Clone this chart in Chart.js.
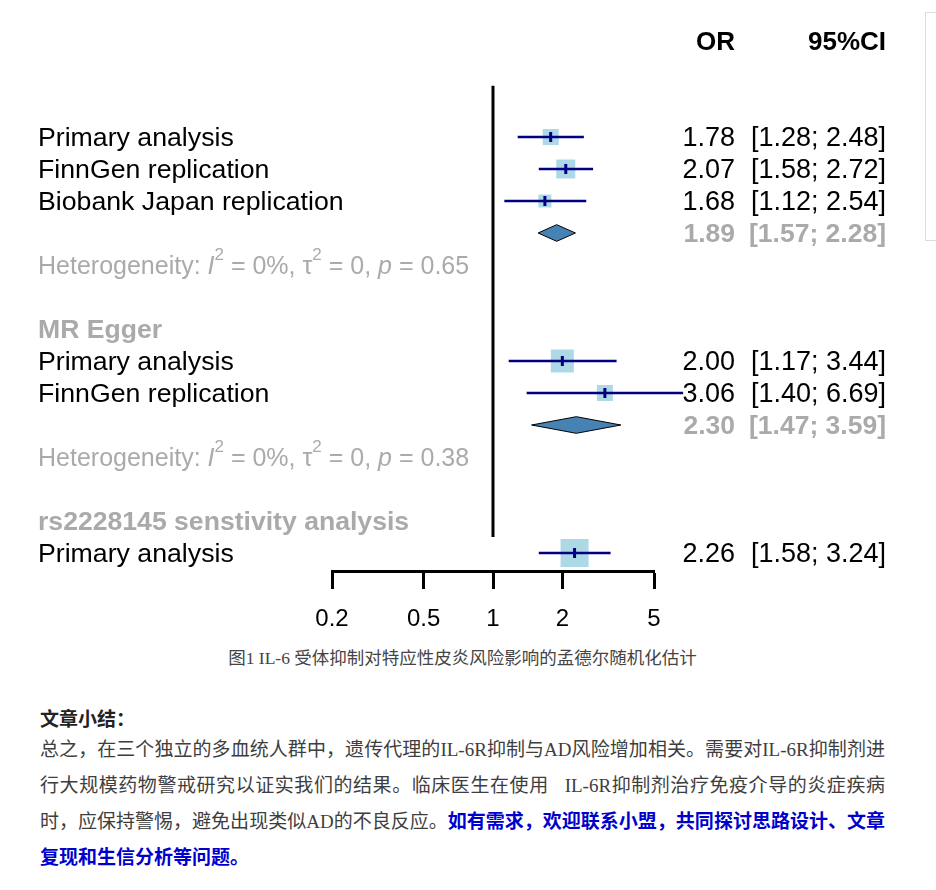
<!DOCTYPE html>
<html>
<head>
  <meta charset="utf-8">
  <title>IL-6R forest plot</title>
  <script src="https://cdn.jsdelivr.net/npm/chart.js"></script>
  <style>
    body { margin: 0; background: #fff; width: 936px; height: 890px; position: relative; overflow: hidden; }
    #wrap { position: absolute; left: 0; top: 0; width: 936px; height: 641px; }
    .side { position: absolute; left: 925px; top: 12px; width: 30px; height: 227px; border: 1px solid #ddd; }
    .caption { position: absolute; left: 0; top: 646px; width: 925px; text-align: center;
      font: 17.5px "Liberation Serif", "Noto Sans CJK SC", serif; color: #444; line-height: 24px; }
    .sumtitle { position: absolute; left: 40px; top: 705px; font: bold 19px "Liberation Serif", "Noto Sans CJK SC", serif;
      color: #222; line-height: 30px; }
    .para { position: absolute; left: 40px; top: 732px; width: 845px;
      font: 19px "Liberation Serif", "Noto Sans CJK SC", serif; color: #3e3e3e; line-height: 36px; }
    .ln { text-align: justify; text-align-last: justify; white-space: nowrap; }
    .ln.last { text-align-last: left; }
    .blue { color: #0000cd; font-weight: bold; }
  </style>
</head>
<body>

  <div id="wrap"><canvas id="forest"></canvas></div>
  <div class="side"></div>

  <div class="caption">图1 IL-6 受体抑制对特应性皮炎风险影响的孟德尔随机化估计</div>
  <div class="sumtitle">文章小结：</div>
  <div class="para">
    <div class="ln">总之，在三个独立的多血统人群中，遗传代理的IL-6R抑制与AD风险增加相关。需要对IL-6R抑制剂进</div>
    <div class="ln">行大规模药物警戒研究以证实我们的结果。临床医生在使用&nbsp;&nbsp; IL-6R抑制剂治疗免疫介导的炎症疾病</div>
    <div class="ln">时，应保持警惕，避免出现类似AD的不良反应。<span class="blue">如有需求，欢迎联系小盟，共同探讨思路设计、文章</span></div>
    <div class="ln last"><span class="blue">复现和生信分析等问题。</span></div>
  </div>

  <script>
    // study rows
    const studyLabels = ['Primary analysis', 'FinnGen replication', 'Biobank Japan replication',
                         'Primary analysis', 'FinnGen replication', 'Primary analysis'];
    const studyRows = [0, 1, 2, 7, 8, 13];
    const studyOR = [1.78, 2.07, 1.68, 2.00, 3.06, 2.26];
    const studyLower = [1.28, 1.58, 1.12, 1.17, 1.40, 1.58];
    const studyUpper = [2.48, 2.72, 2.54, 3.44, 6.69, 3.24];
    const studyWeight = [32.6, 45.9, 21.5, 67.4, 32.6, 100];

    // pooled estimates
    const pooledRows = [3, 9];
    const pooledOR = [1.89, 2.30];
    const pooledLower = [1.57, 1.47];
    const pooledUpper = [2.28, 3.59];

    // heterogeneity lines
    const hetRows = [4, 10];
    const hetI2 = ['0%', '0%'];
    const hetTau2 = ['0', '0'];
    const hetP = ['0.65', '0.38'];

    const groupHeadings = ['MR Egger', 'rs2228145 senstivity analysis'];
    const groupHeadingRows = [6, 12];

    const xTicks = [0.2, 0.5, 1, 2, 5];

    const FONT = '"Liberation Sans", Arial, sans-serif';
    const GREY = '#aaaaaa';
    const NAVY = '#000080';
    const MAX_BOX = 28;
    const DY = 2; // text nudge

    const fmt = v => v.toFixed(2);
    const ciText = (lo, hi) => '[' + fmt(lo) + '; ' + fmt(hi) + ']';

    const ciSets = studyOR.map((_, i) => ({
      data: [{ x: studyLower[i], y: studyRows[i] }, { x: studyUpper[i], y: studyRows[i] }],
      showLine: true,
      borderColor: NAVY,
      borderWidth: 2.5,
      pointRadius: 0,
      clip: false,
      order: 2
    }));

    const forestText = {
      id: 'forestText',
      afterDatasetsDraw(chart) {
        const { ctx, scales: { x, y } } = chart;
        ctx.save();

        // line of no effect
        ctx.strokeStyle = '#000';
        ctx.lineWidth = 3;
        ctx.beginPath();
        ctx.moveTo(x.getPixelForValue(1), y.getPixelForValue(-1.6));
        ctx.lineTo(x.getPixelForValue(1), y.getPixelForValue(12.5));
        ctx.stroke();

        // pooled diamonds
        pooledOR.forEach((v, i) => {
          const r = pooledRows[i];
          ctx.beginPath();
          ctx.moveTo(x.getPixelForValue(pooledLower[i]), y.getPixelForValue(r));
          ctx.lineTo(x.getPixelForValue(v), y.getPixelForValue(r - 0.26));
          ctx.lineTo(x.getPixelForValue(pooledUpper[i]), y.getPixelForValue(r));
          ctx.lineTo(x.getPixelForValue(v), y.getPixelForValue(r + 0.26));
          ctx.closePath();
          ctx.fillStyle = '#4682b4';
          ctx.fill();
          ctx.lineWidth = 1;
          ctx.strokeStyle = '#000';
          ctx.stroke();
        });

        ctx.textBaseline = 'middle';

        // header
        ctx.fillStyle = '#000';
        ctx.font = 'bold 26px ' + FONT;
        ctx.textAlign = 'right';
        ctx.fillText('OR', 735, y.getPixelForValue(-3) + DY);
        ctx.fillText('95%CI', 886, y.getPixelForValue(-3) + DY);

        // study labels and values
        studyLabels.forEach((lab, i) => {
          const py = y.getPixelForValue(studyRows[i]) + DY;
          ctx.font = '26.7px ' + FONT;
          ctx.fillStyle = '#000';
          ctx.textAlign = 'left';
          ctx.fillText(lab, 38, py);
          ctx.textAlign = 'right';
          ctx.font = '27px ' + FONT;
          ctx.fillText(fmt(studyOR[i]), 735, py);
          ctx.fillText(ciText(studyLower[i], studyUpper[i]), 886, py);
        });

        // pooled values
        pooledOR.forEach((v, i) => {
          const py = y.getPixelForValue(pooledRows[i]) + DY;
          ctx.font = 'bold 26.5px ' + FONT;
          ctx.fillStyle = GREY;
          ctx.textAlign = 'right';
          ctx.fillText(fmt(v), 735, py);
          ctx.fillText(ciText(pooledLower[i], pooledUpper[i]), 886, py);
        });

        // group headings
        groupHeadings.forEach((h, i) => {
          ctx.font = 'bold 26.6px ' + FONT;
          ctx.fillStyle = GREY;
          ctx.textAlign = 'left';
          ctx.fillText(h, 38, y.getPixelForValue(groupHeadingRows[i]) + DY);
        });

        // heterogeneity
        hetRows.forEach((r, i) => {
          const py = y.getPixelForValue(r) + DY;
          const parts = [
            ['Heterogeneity: ', '25px', 0],
            ['I', 'italic 25px', 0],
            ['2', '17px', -12],
            [' = ' + hetI2[i] + ', ', '25px', 0],
            ['\u03c4', '25px', 0],
            ['2', '17px', -12],
            [' = ' + hetTau2[i] + ', ', '25px', 0],
            ['p', 'italic 25px', 0],
            [' = ' + hetP[i], '25px', 0]
          ];
          let px = 38;
          ctx.fillStyle = GREY;
          ctx.textAlign = 'left';
          parts.forEach(([t, f, dy]) => {
            ctx.font = f + ' ' + FONT;
            ctx.fillText(t, px, py + dy);
            px += ctx.measureText(t).width;
          });
        });

        ctx.restore();
      }
    };

    new Chart(document.getElementById('forest'), {
      type: 'scatter',
      data: {
        datasets: [
          {
            data: studyOR.map((v, i) => ({ x: v, y: studyRows[i] })),
            pointStyle: 'rect',
            pointRadius: studyWeight.map(w => MAX_BOX * Math.sqrt(w / 100) / Math.SQRT2),
            backgroundColor: '#add8e6',
            borderWidth: 0,
            clip: false,
            order: 3
          },
          ...ciSets,
          {
            data: studyOR.map((v, i) => ({ x: v, y: studyRows[i] })),
            pointStyle: 'line',
            rotation: 90,
            pointRadius: 5,
            borderColor: NAVY,
            borderWidth: 3,
            clip: false,
            order: 1
          }
        ]
      },
      options: {
        responsive: true,
        maintainAspectRatio: false,
        animation: false,
        events: [],
        layout: { padding: { left: 332, right: 282, top: 25, bottom: 0 } },
        plugins: { legend: { display: false }, tooltip: { enabled: false } },
        scales: {
          x: {
            type: 'logarithmic',
            min: 0.2,
            max: 5,
            afterBuildTicks: s => { s.ticks = xTicks.map(v => ({ value: v })); },
            afterFit: s => { s.height = 70; },
            grid: { drawOnChartArea: false, drawTicks: true, tickLength: 18, tickWidth: 3, tickColor: '#000', color: '#000' },
            border: { display: true, color: '#000', width: 3 },
            ticks: {
              color: '#000',
              font: { family: FONT, size: 24 },
              padding: 16,
              autoSkip: false,
              maxRotation: 0,
              callback: v => String(v)
            }
          },
          y: { type: 'linear', reverse: true, min: -3.5, max: 13.5625, display: false }
        }
      },
      plugins: [forestText]
    });
  </script>

</body>
</html>
